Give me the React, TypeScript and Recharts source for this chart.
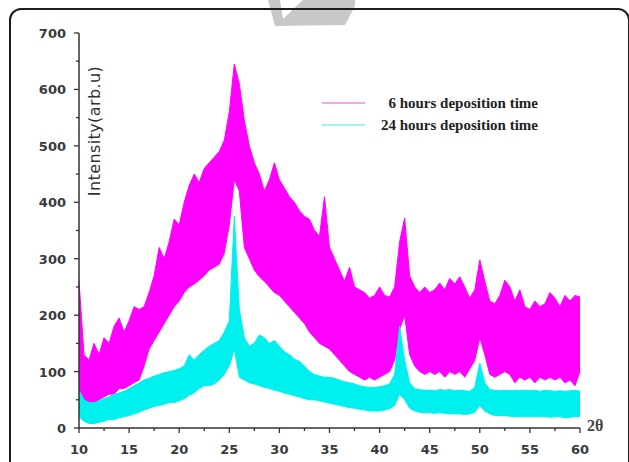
import { Area, AreaChart, XAxis, YAxis } from "recharts";

// 2θ grid, 0.5° step from 10° to 60°
const ANGLES = Array.from({ length: 101 }, (_, i) => 10 + i * 0.5);

// 6 h deposition: upper / lower edge of the noisy band
const H6_HI = [
  260, 130, 120, 150, 130, 160, 150, 180, 195, 170, 190, 215, 210, 215, 240, 270, 320, 300, 330, 370,
  360, 400, 430, 450, 435, 460, 470, 480, 490, 510, 560, 645, 610, 545, 500, 470, 450, 420, 440, 470,
  440, 425, 410, 400, 385, 375, 370, 350, 340, 410, 320, 300, 280, 260, 285, 250, 245, 240, 230, 235,
  250, 235, 232, 250, 330, 372, 270, 250, 240, 250, 240, 245, 257, 245, 265, 255, 268, 250, 230, 245,
  298, 260, 225, 220, 235, 262, 250, 225, 245, 215, 210, 225, 215, 220, 240, 230, 215, 235, 225, 235,
  232,
];
const H6_LO = [
  60, 50, 40, 45, 50, 55, 60, 60, 70, 70, 75, 80, 85, 110, 140, 155, 170, 185, 200, 215,
  225, 240, 250, 255, 262, 270, 280, 285, 290, 310, 360, 440, 420, 320, 300, 280, 268, 260, 250, 240,
  235, 225, 215, 205, 195, 185, 170, 160, 150, 145, 140, 130, 120, 110, 100, 95, 90, 85, 90, 85,
  90, 95, 100, 120, 175, 200, 130, 110, 100, 95, 100, 95, 100, 90, 100, 95, 100, 90, 105, 120,
  160, 130, 95, 90, 95, 100, 95, 80, 90, 85, 90, 80, 90, 85, 90, 85, 90, 80, 85, 75,
  100,
];

// 24 h deposition
const H24_HI = [
  67, 50, 45, 45, 48, 52, 55, 60, 62, 65, 70, 75, 80, 85, 88, 92, 95, 98, 100, 102,
  105, 110, 130, 120, 130, 138, 145, 150, 155, 170, 190, 375, 210, 160, 145, 150, 165, 160, 150, 155,
  145, 135, 130, 122, 118, 110, 100, 95, 92, 90, 90, 88, 85, 82, 80, 78, 75, 73, 72, 72,
  73, 75, 78, 95, 180, 120, 80, 70, 68, 67, 67, 66, 68, 67, 68, 66, 67, 66, 65, 72,
  115, 80, 68, 67, 66, 67, 66, 67, 66, 67, 66, 67, 65, 67, 66, 65, 66, 65, 66, 67,
  65,
];
const H24_LO = [
  20, 12, 8, 8, 10, 12, 15, 15, 18, 20, 22, 25, 28, 32, 35, 38, 40, 42, 45, 45,
  48, 52, 58, 62, 70, 75, 75, 78, 85, 95, 110, 140, 90, 85, 80, 78, 75, 72, 70, 67,
  65, 62, 60, 57, 55, 52, 50, 50, 48, 46, 44, 42, 40, 38, 36, 35, 33, 32, 30, 30,
  30, 32, 34, 40, 60, 50, 35, 30, 28, 27, 27, 26, 27, 26, 25, 25, 25, 24, 25, 28,
  40, 30, 25, 22, 22, 22, 21, 20, 20, 20, 20, 20, 20, 20, 19, 20, 20, 18, 19, 20,
  20,
];

const X_TICKS = Array.from({ length: 21 }, (_, i) => 10 + i * 2.5);
const Y_TICKS = Array.from({ length: 15 }, (_, i) => i * 50);

const LEGEND = [
  { label: "6 hours deposition time", color: "#f4a6f4" },
  { label: "24 hours deposition time", color: "#a6f0f0" },
];

const MAGENTA = "#ff00ff";
const CYAN = "#00f0f0";
const INK = "#333";
const TICK_FONT = { fontFamily: "'DejaVu Sans', sans-serif", fontWeight: 700, fontSize: 13, fill: "#3a3a3a" };

const data = ANGLES.map((a, i) => ({
  angle: a,
  h6: [H6_LO[i], H6_HI[i]],
  h24: [H24_LO[i], H24_HI[i]],
}));

function XTick({ x, y, payload }: any) {
  const major = payload.value % 5 === 0;
  return (
    <g>
      <line x1={x} x2={x} y1={y} y2={y + (major ? 5 : 3)} stroke={INK} strokeWidth={1.3} />
      {major && (
        <text x={x} y={y + 26} textAnchor="middle" {...TICK_FONT}>
          {payload.value}
        </text>
      )}
    </g>
  );
}

function YTick({ x, y, payload }: any) {
  const major = payload.value % 100 === 0;
  return (
    <g>
      <line x1={x} x2={x - (major ? 5 : 3)} y1={y} y2={y} stroke={INK} strokeWidth={1.3} />
      {major && (
        <text x={x - 13} y={y + 5} textAnchor="end" {...TICK_FONT}>
          {payload.value}
        </text>
      )}
    </g>
  );
}

function LegendBox() {
  return (
    <div
      style={{
        position: "absolute",
        left: 322,
        top: 92,
        width: 216,
        fontFamily: "'Liberation Serif', serif",
        fontWeight: 700,
        fontSize: 15,
        color: "#222",
      }}
    >
      {LEGEND.map((r) => (
        <div key={r.label} style={{ display: "flex", alignItems: "center", height: 22 }}>
          <div style={{ width: 43, height: 2, background: r.color }} />
          <div style={{ flex: 1, textAlign: "right", whiteSpace: "nowrap" }}>{r.label}</div>
        </div>
      ))}
    </div>
  );
}

export default function App() {
  return (
    <div style={{ position: "absolute", left: 0, top: 0, width: 629, height: 462, overflow: "hidden", background: "#fff" }}>
      <svg width={629} height={462} style={{ position: "absolute", left: 0, top: 0 }}>
        <polygon points="268,0 280,0 283,19 303,0 355,0 355,6 345,25 275,26" fill="#c8c8c8" />
      </svg>
      <div
        style={{
          position: "absolute",
          left: 9,
          top: 8,
          width: 621,
          height: 480,
          border: "2px solid #1e1e1e",
          borderRadius: 12,
          boxSizing: "border-box",
        }}
      />
      <div style={{ position: "absolute", left: 0, top: 0 }}>
        <AreaChart width={629} height={462} data={data} margin={{ top: 33, right: 49, bottom: 0, left: 19 }}>
          <XAxis
            dataKey="angle"
            type="number"
            domain={[10, 60]}
            ticks={X_TICKS}
            interval={0}
            height={34}
            tickSize={0}
            tickMargin={0}
            tickLine={false}
            axisLine={{ stroke: INK, strokeWidth: 1.5 }}
            tick={<XTick />}
          />
          <YAxis
            type="number"
            domain={[0, 700]}
            ticks={Y_TICKS}
            interval={0}
            width={60}
            tickSize={0}
            tickMargin={0}
            tickLine={false}
            axisLine={{ stroke: INK, strokeWidth: 1.5 }}
            tick={<YTick />}
          />
          <Area
            dataKey="h6"
            type="linear"
            stroke={MAGENTA}
            strokeWidth={1}
            fill={MAGENTA}
            fillOpacity={1}
            isAnimationActive={false}
          />
          <Area
            dataKey="h24"
            type="linear"
            stroke={CYAN}
            strokeWidth={1}
            fill={CYAN}
            fillOpacity={1}
            isAnimationActive={false}
          />
        </AreaChart>
      </div>
      <LegendBox />
      <svg width={629} height={462} style={{ position: "absolute", left: 0, top: 0, pointerEvents: "none" }}>
        <text
          transform="translate(100,131) rotate(-90)"
          textAnchor="middle"
          fontFamily="'DejaVu Sans', sans-serif"
          fontSize={16}
          letterSpacing={0.4}
          fill={INK}
        >
          Intensity(arb.u)
        </text>
        <text x={587} y={431} fontFamily="'Liberation Serif', serif" fontWeight={700} fontSize={16} fill="#444">
          2θ
        </text>
      </svg>
    </div>
  );
}
